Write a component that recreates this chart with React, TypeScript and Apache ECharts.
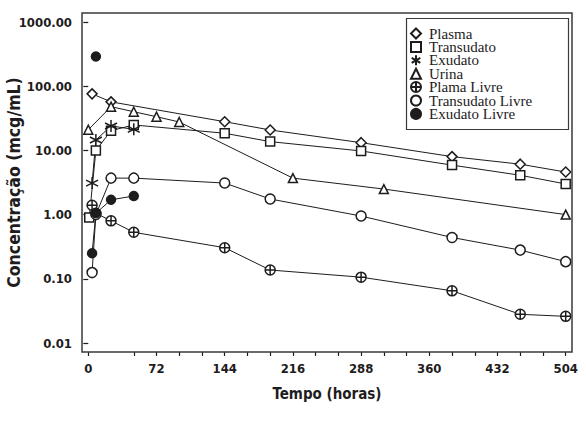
import React, { useEffect, useRef } from "react";
import * as echarts from "echarts";

const xTickValues = [0, 48, 72, 96, 120, 144, 168, 192, 216, 240, 264, 288, 312, 336, 360, 384, 408, 432, 456, 480, 504];
const xLabelValues = [0, 72, 144, 216, 288, 360, 432, 504];

const plasma = [[4, 76], [24, 57], [144, 28], [192, 20.8], [288, 13.2], [384, 8], [456, 6.1], [504, 4.6]];
const transudato = [[1, 0.9], [8, 10], [24, 20.3], [48, 24.9], [144, 18.5], [192, 13.7], [288, 9.8], [384, 5.9], [456, 4.1], [504, 3.0]];
const exudato = [[4, 3.1], [8, 14.5], [24, 24], [48, 21.3]];
const urina = [[0, 21], [24, 48], [48, 40], [72, 33.5], [96, 27.7], [216, 3.7], [312, 2.5], [504, 1.0]];
const plamaLivre = [[4, 1.4], [8, 1.05], [24, 0.8], [48, 0.53], [144, 0.305], [192, 0.137], [288, 0.106], [384, 0.065], [456, 0.028], [504, 0.026]];
const transudatoLivre = [[4, 0.125], [8, 1.0], [24, 3.7], [48, 3.7], [144, 3.1], [192, 1.75], [288, 0.95], [384, 0.44], [456, 0.28], [504, 0.185]];
const exudatoLivre = [[4, 0.25], [8, 1.05], [24, 1.7], [48, 1.95]];
const exudatoLivreOutlier = [[8, 290]];

const INK = "#1e1c1d";
const SANS = "'Liberation Sans Narrow','DejaVu Sans Condensed','Roboto',sans-serif";
const SERIF = "'Liberation Serif','DejaVu Serif',serif";

const SYM_AST = "path://M5,0 L5,10 M0.67,2.5 L9.33,7.5 M0.67,7.5 L9.33,2.5";
const SYM_CPLUS = "path://M5,0 A5,5 0 1,1 5,10 A5,5 0 1,1 5,0 Z M0,5 L10,5 M5,0 L5,10";

function lineSeries(name: string, data: number[][], symbol: string, size: number, fill: string) {
  return {
    name,
    type: "line",
    data,
    symbol,
    symbolSize: size,
    showAllSymbol: true,
    lineStyle: { color: INK, width: 1 },
    itemStyle: { color: fill, borderColor: INK, borderWidth: 1.5, opacity: 1 },
    emphasis: { disabled: true },
  };
}

export default function App() {
  const ref = useRef<HTMLDivElement>(null);
  useEffect(() => {
    if (!ref.current) return;
    const chart = echarts.init(ref.current, undefined, { renderer: "svg" });
    chart.setOption({
      animation: false,
      backgroundColor: "#fff",
      grid: { left: 82, right: 14, top: 22, bottom: 80, containLabel: false, outerBoundsMode: "none" },
      xAxis: {
        type: "value",
        min: -6.65,
        max: 510.65,
        offset: 9,
        axisLine: { show: false },
        axisTick: { show: true, length: 4, customValues: xTickValues, lineStyle: { color: INK, width: 1.2 } },
        axisLabel: {
          customValues: xLabelValues,
          margin: 10,
          color: INK,
          fontFamily: SANS,
          fontWeight: "bold",
          fontSize: 13,
        },
        splitLine: { show: false },
        name: "Tempo (horas)",
        nameLocation: "middle",
        nameGap: 34,
        nameMoveOverlap: false,
        nameTextStyle: { color: INK, fontFamily: SANS, fontWeight: "bold", fontSize: 15 },
      },
      yAxis: {
        type: "log",
        logBase: 10,
        min: 0.01,
        max: 1000,
        axisLine: { show: false },
        axisTick: { show: true, length: 5, lineStyle: { color: INK, width: 1.2 } },
        axisLabel: {
          margin: 10,
          color: INK,
          fontFamily: SANS,
          fontWeight: "bold",
          fontSize: 13,
          formatter: (v: number) => v.toFixed(2),
        },
        minorTick: { show: false },
        splitLine: { show: false },
        name: "Concentração (mcg/mL)",
        nameLocation: "middle",
        nameGap: 59,
        nameMoveOverlap: false,
        nameTextStyle: { color: INK, fontFamily: SANS, fontWeight: "bold", fontSize: 17.5 },
      },
      legend: {
        orient: "vertical",
        left: 410,
        top: 26,
        padding: 0,
        itemWidth: 10,
        itemHeight: 10,
        itemGap: -1.6,
        selectedMode: false,
        textStyle: { color: INK, fontFamily: SERIF, fontSize: 15, lineHeight: 15, padding: [0, 0, 0, 3] },
        data: [
          { name: "Plasma", icon: "diamond" },
          { name: "Transudato", icon: "rect" },
          { name: "Exudato", icon: SYM_AST },
          { name: "Urina", icon: "triangle" },
          { name: "Plama Livre", icon: SYM_CPLUS },
          { name: "Transudato Livre", icon: "circle" },
          { name: "Exudato Livre", icon: "circle" },
        ],
      },
      graphic: [
        {
          type: "rect",
          shape: { x: 82, y: 13, width: 490, height: 339 },
          style: { fill: "none", stroke: "#3a3a3a", lineWidth: 1.5 },
          z: 100,
          silent: true,
        },
        {
          type: "rect",
          shape: { x: 406.5, y: 18.5, width: 162, height: 111 },
          style: { fill: "none", stroke: "#3a3a3a", lineWidth: 1.2 },
          z: 100,
          silent: true,
        },
      ],
      series: [
        lineSeries("Plasma", plasma, "diamond", 10, "#fff"),
        lineSeries("Transudato", transudato, "rect", 9, "#fff"),
        lineSeries("Exudato", exudato, SYM_AST, 12, "#fff"),
        lineSeries("Urina", urina, "triangle", 9, "#fff"),
        lineSeries("Plama Livre", plamaLivre, SYM_CPLUS, 10, "#fff"),
        lineSeries("Transudato Livre", transudatoLivre, "circle", 10, "#fff"),
        lineSeries("Exudato Livre", exudatoLivre, "circle", 9, INK),
        {
          name: "Exudato Livre",
          type: "scatter",
          data: exudatoLivreOutlier,
          symbol: "circle",
          symbolSize: 9,
          itemStyle: { color: INK, borderColor: INK, borderWidth: 1.5, opacity: 1 },
          emphasis: { disabled: true },
        },
      ],
    });
    return () => chart.dispose();
  }, []);
  return <div ref={ref} style={{ position: "absolute", left: 0, top: 0, width: 586, height: 423 }} />;
}
